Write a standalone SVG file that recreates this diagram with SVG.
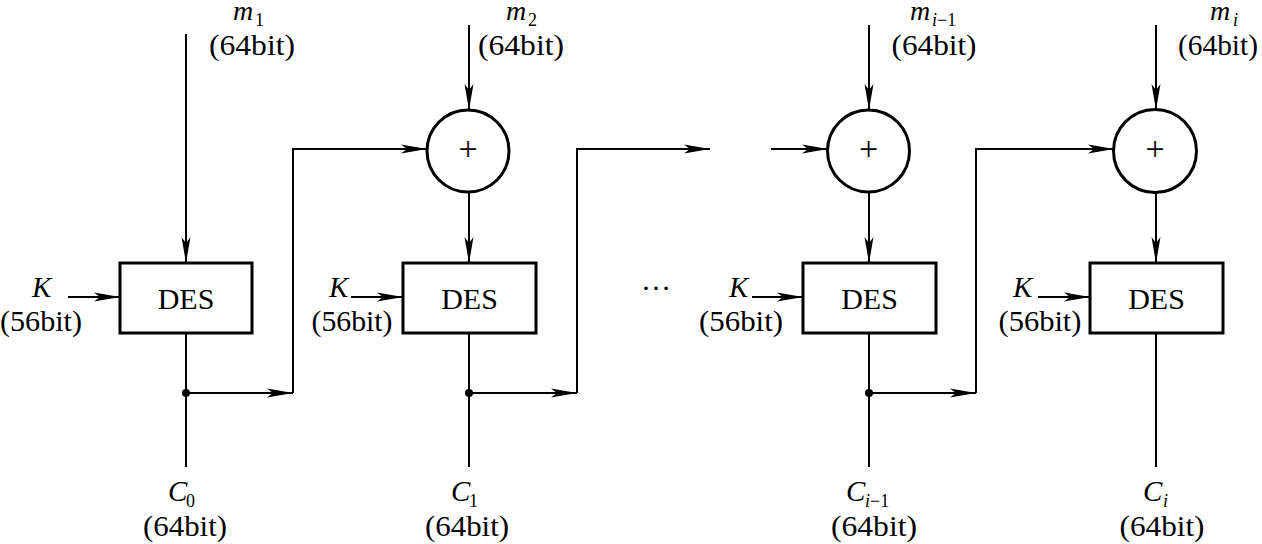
<svg xmlns="http://www.w3.org/2000/svg" width="1262" height="544" viewBox="0 0 1262 544" font-family="Liberation Serif, Times New Roman, serif">
<style>
  .box{fill:#fff;stroke:#000;stroke-width:3}
  .ln{fill:none;stroke:#000;stroke-width:2}
  .it{font-style:italic}
  .big{font-size:29px}
  .mm{font-size:28px}
  .sub{font-size:18px}
  .des{font-size:30px}
  .plus{font-size:34px}
</style>
<defs>
  <marker id="ah" markerUnits="userSpaceOnUse" markerWidth="26" markerHeight="10" viewBox="0 0 26 10" refX="26" refY="5" orient="auto">
    <path d="M0,0.5 L26,5 L0,9.5 L6,5 Z" fill="#000"/>
  </marker>
</defs>
<rect width="1262" height="544" fill="#fff"/>

<g id="connectors">
  <line class="ln" x1="186" y1="34" x2="186" y2="263" marker-end="url(#ah)"/>
  <line class="ln" x1="68" y1="297" x2="120" y2="297" marker-end="url(#ah)"/>
  <line class="ln" x1="186" y1="333" x2="186" y2="467"/>
  <line class="ln" x1="186" y1="393" x2="293" y2="393" marker-end="url(#ah)"/>
  <polyline class="ln" points="293,393 293,149 427,149" marker-end="url(#ah)"/>
  <line class="ln" x1="469" y1="25" x2="469" y2="110" marker-end="url(#ah)"/>
  <line class="ln" x1="469" y1="192" x2="469" y2="263" marker-end="url(#ah)"/>
  <line class="ln" x1="351" y1="297" x2="403" y2="297" marker-end="url(#ah)"/>
  <line class="ln" x1="469" y1="333" x2="469" y2="467"/>
  <line class="ln" x1="469" y1="393" x2="577" y2="393" marker-end="url(#ah)"/>
  <polyline class="ln" points="577,393 577,149 710,149" marker-end="url(#ah)"/>
  <line class="ln" x1="771" y1="149" x2="828" y2="149" marker-end="url(#ah)"/>
  <line class="ln" x1="869" y1="25" x2="869" y2="110" marker-end="url(#ah)"/>
  <line class="ln" x1="869" y1="192" x2="869" y2="263" marker-end="url(#ah)"/>
  <line class="ln" x1="752" y1="297" x2="803" y2="297" marker-end="url(#ah)"/>
  <line class="ln" x1="869" y1="333" x2="869" y2="467"/>
  <line class="ln" x1="869" y1="393" x2="976" y2="393" marker-end="url(#ah)"/>
  <polyline class="ln" points="976,393 976,149 1114,149" marker-end="url(#ah)"/>
  <line class="ln" x1="1156" y1="25" x2="1156" y2="110" marker-end="url(#ah)"/>
  <line class="ln" x1="1156" y1="192" x2="1156" y2="263" marker-end="url(#ah)"/>
  <line class="ln" x1="1038" y1="297" x2="1090" y2="297" marker-end="url(#ah)"/>
  <line class="ln" x1="1156" y1="333" x2="1156" y2="467"/>
  <circle cx="186" cy="393" r="4" fill="#000"/>
  <circle cx="469" cy="393" r="4" fill="#000"/>
  <circle cx="869" cy="393" r="4" fill="#000"/>
</g>

<g id="des1">
  <rect class="box" x="120" y="263" width="132" height="70"/>
  <text class="des" x="186" y="309" text-anchor="middle">DES</text>
</g>
<g id="xor2">
  <circle class="box" cx="468" cy="151" r="41"/>
  <text class="plus" x="468" y="160" text-anchor="middle">+</text>
</g>
<g id="des2">
  <rect class="box" x="403" y="263" width="133" height="70"/>
  <text class="des" x="469.5" y="309" text-anchor="middle">DES</text>
</g>
<g id="xor3">
  <circle class="box" cx="868.5" cy="151" r="41"/>
  <text class="plus" x="868.5" y="160" text-anchor="middle">+</text>
</g>
<g id="des3">
  <rect class="box" x="803" y="263" width="133" height="70"/>
  <text class="des" x="869.5" y="309" text-anchor="middle">DES</text>
</g>
<g id="xor4">
  <circle class="box" cx="1155" cy="151" r="41.5"/>
  <text class="plus" x="1155" y="160" text-anchor="middle">+</text>
</g>
<g id="des4">
  <rect class="box" x="1090" y="263" width="133" height="70"/>
  <text class="des" x="1156.5" y="309" text-anchor="middle">DES</text>
</g>

<g id="labels-top">
  <text class="it mm" x="233" y="20">m</text><text class="sub" x="255" y="26">1</text>
  <text class="big" x="252" y="55" text-anchor="middle" textLength="86" lengthAdjust="spacingAndGlyphs">(64bit)</text>
  <text class="it mm" x="506" y="20">m</text><text class="sub" x="528" y="26">2</text>
  <text class="big" x="521" y="55" text-anchor="middle" textLength="86" lengthAdjust="spacingAndGlyphs">(64bit)</text>
  <text class="it mm" x="910" y="20">m</text><text class="sub" x="932" y="26"><tspan font-style="italic">i</tspan>−1</text>
  <text class="big" x="934" y="55" text-anchor="middle" textLength="85" lengthAdjust="spacingAndGlyphs">(64bit)</text>
  <text class="it mm" x="1210" y="20">m</text><text class="sub it" x="1233" y="26">i</text>
  <text class="big" x="1218" y="55" text-anchor="middle" textLength="80" lengthAdjust="spacingAndGlyphs">(64bit)</text>
</g>

<g id="labels-key">
  <text class="it big" x="32" y="297">K</text>
  <text class="big" x="41" y="331" text-anchor="middle" textLength="82" lengthAdjust="spacingAndGlyphs">(56bit)</text>
  <text class="it big" x="329" y="297">K</text>
  <text class="big" x="352" y="331" text-anchor="middle" textLength="81" lengthAdjust="spacingAndGlyphs">(56bit)</text>
  <text class="it big" x="729" y="297">K</text>
  <text class="big" x="741" y="331" text-anchor="middle" textLength="84" lengthAdjust="spacingAndGlyphs">(56bit)</text>
  <text class="it big" x="1013" y="297">K</text>
  <text class="big" x="1040" y="331" text-anchor="middle" textLength="83" lengthAdjust="spacingAndGlyphs">(56bit)</text>
</g>

<g id="ellipsis">
  <text font-size="30" x="656" y="290" text-anchor="middle">…</text>
</g>

<g id="labels-bottom">
  <text class="it big" x="168" y="501">C</text><text class="sub" x="186" y="507">0</text>
  <text class="big" x="185" y="536" text-anchor="middle" textLength="84" lengthAdjust="spacingAndGlyphs">(64bit)</text>
  <text class="it big" x="451" y="501">C</text><text class="sub" x="469" y="507">1</text>
  <text class="big" x="467" y="536" text-anchor="middle" textLength="84" lengthAdjust="spacingAndGlyphs">(64bit)</text>
  <text class="it big" x="846" y="501">C</text><text class="sub" x="865" y="507"><tspan font-style="italic">i</tspan>−1</text>
  <text class="big" x="874" y="536" text-anchor="middle" textLength="86" lengthAdjust="spacingAndGlyphs">(64bit)</text>
  <text class="it big" x="1143" y="501">C</text><text class="sub it" x="1163" y="507">i</text>
  <text class="big" x="1162" y="536" text-anchor="middle" textLength="85" lengthAdjust="spacingAndGlyphs">(64bit)</text>
</g>
</svg>
